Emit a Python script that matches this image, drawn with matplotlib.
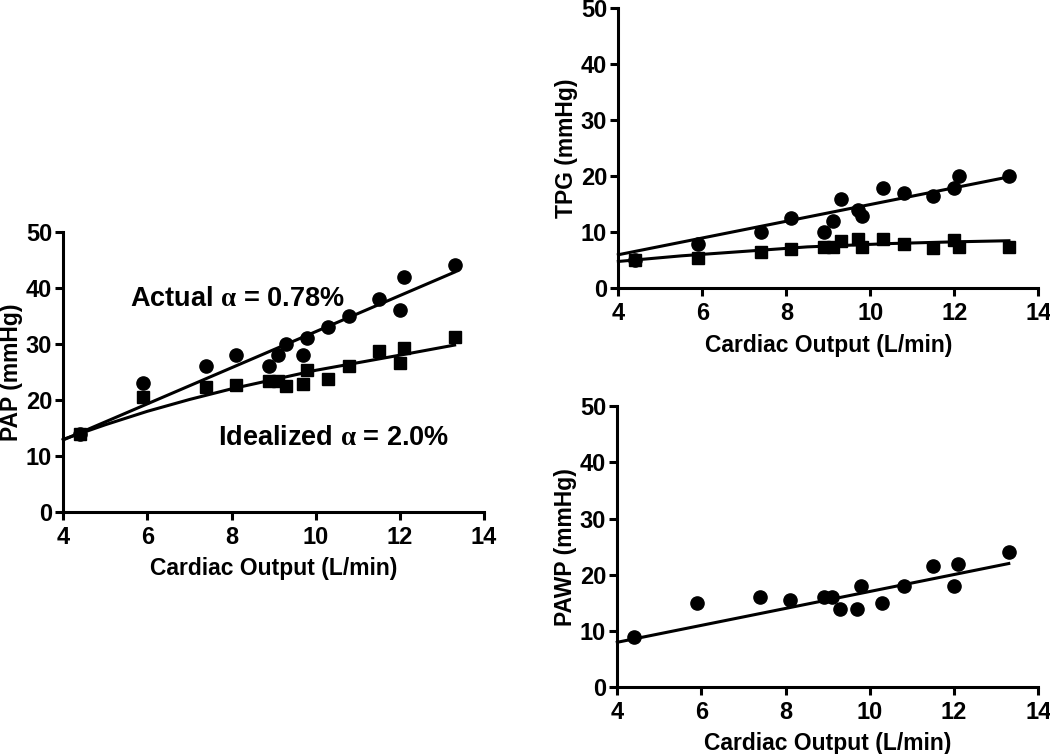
import matplotlib
matplotlib.use("Agg")
import matplotlib.pyplot as plt

plt.rcParams['font.family'] = ['Liberation Sans', 'DejaVu Sans']
plt.rcParams['font.weight'] = 'bold'
plt.rcParams['mathtext.fontset'] = 'custom'
plt.rcParams['mathtext.rm'] = 'Liberation Serif'

# cardiac output, same for every panel
co = [4.4, 5.9, 7.4, 8.1, 8.9, 9.1, 9.3, 9.7, 9.8, 10.3, 10.8, 11.5, 12.0, 12.1, 13.3]

# PAP panel
pap_actual = [14, 23, 26, 28, 26, 28, 30, 28, 31, 33, 35, 38, 36, 42, 44]
pap_ideal = [14, 20.6, 22.4, 22.6, 23.4, 23.4, 22.5, 22.8, 25.3, 23.8, 26, 28.7, 26.6, 29.3, 31.3]
pap_fit_x = [4.0, 13.3]
pap_fit_actual = [12.9, 42.8]
pap_curve_x = [4.0, 5.0, 6.0, 7.0, 8.0, 10.0, 12.0, 13.3]
pap_curve_ideal = [13.0, 15.6, 18.0, 20.1, 22.0, 25.3, 28.0, 29.8]

# TPG panel
tpg_actual = [5, 8, 10, 12.5, 10, 12, 16, 14, 13, 18, 17, 16.5, 18, 20, 20]
tpg_ideal = [5, 5.5, 6.4, 7.0, 7.4, 7.4, 8.5, 8.8, 7.3, 8.8, 8.0, 7.2, 8.6, 7.3, 7.3]
tpg_fit_x = [4.0, 13.3]
tpg_fit_actual = [6.0, 19.9]
tpg_curve_x = [4.0, 5.5, 7.0, 8.5, 10.5, 12.0, 13.3]
tpg_curve_ideal = [4.8, 5.8, 6.6, 7.4, 8.0, 8.3, 8.5]

# PAWP panel
pawp = [9, 15, 16, 15.5, 16, 16, 14, 14, 18, 15, 18, 21.5, 18, 22, 24]
pawp_fit_x = [4.0, 13.3]
pawp_fit = [8.0, 22.0]

xticks = [4, 6, 8, 10, 12, 14]
yticks = [0, 10, 20, 30, 40, 50]


def style_axes(ax, ylabel):
    ax.set_xlim(4, 14)
    ax.set_ylim(0, 50)
    ax.set_xticks(xticks)
    ax.set_yticks(yticks)
    for s in ['top', 'right']:
        ax.spines[s].set_visible(False)
    for s in ['left', 'bottom']:
        ax.spines[s].set_linewidth(2.2)
    ax.tick_params(width=2.2, length=6, labelsize=17, pad=2)
    ax.tick_params(axis='x', pad=4)
    for lab in ax.get_xticklabels() + ax.get_yticklabels():
        lab.set_fontweight('bold')
    ax.set_xlabel('Cardiac Output (L/min)', fontsize=16.5, fontweight='bold', labelpad=6)
    ax.set_ylabel(ylabel, fontsize=16.5, fontweight='bold', labelpad=2)


fig = plt.figure(figsize=(10.5, 7.54), dpi=100)
ax1 = fig.add_axes([0.0603, 0.3206, 0.4007, 0.3721])
ax2 = fig.add_axes([0.5889, 0.6176, 0.4000, 0.3714])
ax3 = fig.add_axes([0.5879, 0.0885, 0.4009, 0.3730])

# PAP
ax1.plot(pap_fit_x, pap_fit_actual, color='black', lw=2.2, clip_on=False)
ax1.plot(pap_curve_x, pap_curve_ideal, color='black', lw=2.2, clip_on=False)
ax1.plot(co, pap_ideal, 's', color='black', ms=8, clip_on=False)
ax1.plot(co, pap_actual, 'o', color='black', ms=9.5, clip_on=False)
ax1.text(5.59, 38.0, r'Actual $\mathrm{\alpha}$ = 0.78%', fontsize=19.5,
         fontweight='bold', va='center', ha='left')
ax1.text(7.68, 13.2, r'Idealized $\mathrm{\alpha}$ = 2.0%', fontsize=19.5,
         fontweight='bold', va='center', ha='left')
style_axes(ax1, 'PAP (mmHg)')

# TPG
ax2.plot(tpg_fit_x, tpg_fit_actual, color='black', lw=2.2, clip_on=False)
ax2.plot(tpg_curve_x, tpg_curve_ideal, color='black', lw=2.2, clip_on=False)
ax2.plot(co, tpg_ideal, 's', color='black', ms=8, clip_on=False)
ax2.plot(co, tpg_actual, 'o', color='black', ms=9.5, clip_on=False)
style_axes(ax2, 'TPG (mmHg)')

# PAWP
ax3.plot(pawp_fit_x, pawp_fit, color='black', lw=2.2, clip_on=False)
ax3.plot(co, pawp, 'o', color='black', ms=9.5, clip_on=False)
style_axes(ax3, 'PAWP (mmHg)')

plt.savefig('out.png', dpi=100)
